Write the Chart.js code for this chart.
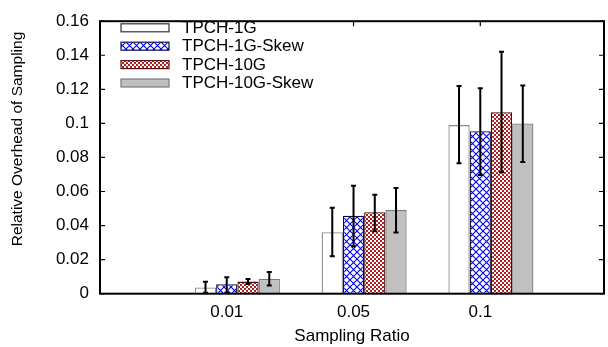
<!DOCTYPE html>
<html>
<head>
<meta charset="utf-8">
<script src="https://cdn.jsdelivr.net/npm/chart.js@4.4.1/dist/chart.umd.min.js"></script>
<style>
  html, body { margin: 0; padding: 0; background: #fff; }
  #wrap { width: 608px; height: 347px; }
</style>
</head>
<body>
<div id="wrap"><canvas id="c" width="608" height="347"></canvas></div>
<script>
// ---- data ----
const categories = ['0.01', '0.05', '0.1'];
const seriesNames = ['TPCH-1G', 'TPCH-1G-Skew', 'TPCH-10G', 'TPCH-10G-Skew'];
const tpch1g      = [0.0037, 0.0361, 0.0990];
const tpch1gLo    = [0.0005, 0.0220, 0.0766];
const tpch1gHi    = [0.0070, 0.0504, 0.1219];
const tpch1gSkew   = [0.0056, 0.0458, 0.0954];
const tpch1gSkewLo = [0.0006, 0.0279, 0.0697];
const tpch1gSkewHi = [0.0097, 0.0634, 0.1206];
const tpch10g     = [0.0071, 0.0478, 0.1066];
const tpch10gLo   = [0.0057, 0.0367, 0.0713];
const tpch10gHi   = [0.0086, 0.0581, 0.1421];
const tpch10gSkew   = [0.0086, 0.0491, 0.0999];
const tpch10gSkewLo = [0.0048, 0.0359, 0.0774];
const tpch10gSkewHi = [0.0128, 0.0621, 0.1223];
const yTicks = [0, 0.02, 0.04, 0.06, 0.08, 0.10, 0.12, 0.14, 0.16];
const yTickLabels = ['0', '0.02', '0.04', '0.06', '0.08', '0.1', '0.12', '0.14', '0.16'];
const xTitle = 'Sampling Ratio';
const yTitle = 'Relative Overhead of Sampling';

const FONT = "'Liberation Sans', Arial, Helvetica, sans-serif";

// ---- patterns ----
const ctxMain = document.getElementById('c').getContext('2d');
function pat(w, h, draw) {
  const cv = document.createElement('canvas');
  cv.width = w; cv.height = h;
  const g = cv.getContext('2d');
  draw(g, w, h);
  return ctxMain.createPattern(cv, 'repeat');
}
const bluePattern = pat(7, 7, (g, w, h) => {
  g.fillStyle = '#ffffff'; g.fillRect(0, 0, w, h);
  g.strokeStyle = '#0000ff'; g.lineWidth = 1.1;
  g.beginPath();
  g.moveTo(-1, -1); g.lineTo(w + 1, h + 1);
  g.moveTo(w + 1, -1); g.lineTo(-1, h + 1);
  g.stroke();
});
const redPattern = pat(4, 4, (g, w, h) => {
  g.fillStyle = '#ffffff'; g.fillRect(0, 0, w, h);
  g.fillStyle = '#b02020';
  g.fillRect(0, 0, 2, 2); g.fillRect(2, 2, 2, 2);
});

const values = [tpch1g, tpch1gSkew, tpch10g, tpch10gSkew];
const lows = [tpch1gLo, tpch1gSkewLo, tpch10gLo, tpch10gSkewLo];
const highs = [tpch1gHi, tpch1gSkewHi, tpch10gHi, tpch10gSkewHi];
const fills = ['#ffffff', bluePattern, redPattern, '#c0c0c0'];
const borders = ['#8a8a8a', '#101030', '#401010', '#7a7a7a'];
const legendBorders = ['#333333', '#101050', '#601010', '#7a7a7a'];

const datasets = [{
  label: '', data: categories.map((c, i) => ({ x: i, y: null })),
  backgroundColor: 'rgba(0,0,0,0)', borderWidth: 0, isDummy: true
}];
values.forEach((vals, s) => {
  datasets.push({
    label: seriesNames[s],
    data: categories.map((c, i) => ({ x: i, y: vals[i] })),
    backgroundColor: fills[s],
    borderColor: borders[s],
    legendBorder: legendBorders[s],
    borderWidth: 1.3,
    borderSkipped: 'start',
    errLo: lows[s],
    errHi: highs[s]
  });
});

// ---- plugins ----
const framePlugin = {
  id: 'frame',
  beforeDatasetsDraw(chart) {
    const { ctx, chartArea: a, scales } = chart;
    ctx.save();
    ctx.strokeStyle = '#000'; ctx.lineWidth = 1.2;
    ctx.beginPath();
    scales.x.ticks.forEach(t => {
      const px = scales.x.getPixelForValue(t.value);
      ctx.moveTo(px, a.bottom); ctx.lineTo(px, a.bottom - 5);
    });
    ctx.stroke();
    ctx.restore();
  },
  afterDatasetsDraw(chart) {
    const { ctx, chartArea: a, scales } = chart;
    const ys = scales.y;
    ctx.save();
    // error bars
    ctx.strokeStyle = '#000';
    ctx.lineWidth = 2;
    chart.data.datasets.forEach((ds, di) => {
      if (ds.isDummy) return;
      const meta = chart.getDatasetMeta(di);
      meta.data.forEach((bar, j) => {
        const x = bar.x;
        const yl = ys.getPixelForValue(ds.errLo[j]);
        const yh = ys.getPixelForValue(ds.errHi[j]);
        ctx.beginPath();
        ctx.moveTo(x, yl); ctx.lineTo(x, yh);
        ctx.moveTo(x - 2.5, yl); ctx.lineTo(x + 2.5, yl);
        ctx.moveTo(x - 2.5, yh); ctx.lineTo(x + 2.5, yh);
        ctx.stroke();
      });
    });
    // inward ticks
    ctx.lineWidth = 1.2;
    ctx.beginPath();
    ys.ticks.forEach(t => {
      const py = ys.getPixelForValue(t.value);
      ctx.moveTo(a.left, py); ctx.lineTo(a.left + 5, py);
      ctx.moveTo(a.right, py); ctx.lineTo(a.right - 5, py);
    });
    scales.x.ticks.forEach(t => {
      const px = scales.x.getPixelForValue(t.value);
      ctx.moveTo(px, a.top); ctx.lineTo(px, a.top + 5);
    });
    ctx.stroke();
    // frame
    ctx.lineWidth = 2;
    ctx.strokeRect(a.left, a.top, a.right - a.left, a.bottom - a.top);
    ctx.restore();
  },
  afterDraw(chart) {
    const { ctx } = chart;
    ctx.save();
    // y title
    ctx.fillStyle = '#000';
    ctx.font = '15.5px ' + FONT;
    ctx.textAlign = 'center';
    ctx.textBaseline = 'middle';
    ctx.translate(17.5, 139);
    ctx.rotate(-Math.PI / 2);
    ctx.fillText(yTitle, 0, 0);
    ctx.restore();
    // legend
    ctx.save();
    ctx.font = '17px ' + FONT;
    ctx.textAlign = 'left';
    ctx.textBaseline = 'middle';
    let k = 0;
    chart.data.datasets.forEach(ds => {
      if (ds.isDummy) return;
      const cy = 27.8 + k * 18.4;
      ctx.fillStyle = ds.backgroundColor;
      ctx.fillRect(121, cy - 4, 48, 8);
      ctx.strokeStyle = ds.legendBorder;
      ctx.lineWidth = 1.2;
      ctx.strokeRect(121, cy - 4, 48, 8);
      ctx.fillStyle = '#000';
      ctx.fillText(ds.label, 182, cy + 0.5);
      k++;
    });
    ctx.restore();
  }
};

Chart.defaults.color = '#000';
Chart.defaults.font.family = FONT;

new Chart(ctxMain, {
  type: 'bar',
  data: { datasets },
  options: {
    responsive: false,
    animation: false,
    events: [],
    layout: { padding: { top: 14.5, right: 4, left: 0, bottom: 0 } },
    plugins: { legend: { display: false }, tooltip: { enabled: false } },
    datasets: { bar: { categoryPercentage: 0.8383, barPercentage: 1.0 } },
    scales: {
      x: {
        type: 'linear',
        min: -1, max: 2.976,
        offset: false,
        grid: { display: false, drawTicks: false },
        border: { display: false },
        afterBuildTicks: s => { s.ticks = categories.map((c, i) => ({ value: i })); },
        ticks: {
          font: { size: 17 },
          padding: 8,
          maxRotation: 0,
          autoSkip: false,
          callback: v => categories[v]
        },
        title: { display: true, text: xTitle, font: { size: 17 }, padding: { top: 0, bottom: 0 } },
        afterFit: s => { s.height = 53.3; }
      },
      y: {
        min: 0, max: 0.16,
        grid: { display: false, drawTicks: false },
        border: { display: false },
        afterBuildTicks: s => { s.ticks = yTicks.map(v => ({ value: v })); },
        ticks: {
          font: { size: 17 },
          padding: 11,
          autoSkip: false,
          callback: (v, i) => yTickLabels[i]
        },
        afterFit: s => { s.width = 100; }
      }
    }
  },
  plugins: [framePlugin]
});
</script>
</body>
</html>
